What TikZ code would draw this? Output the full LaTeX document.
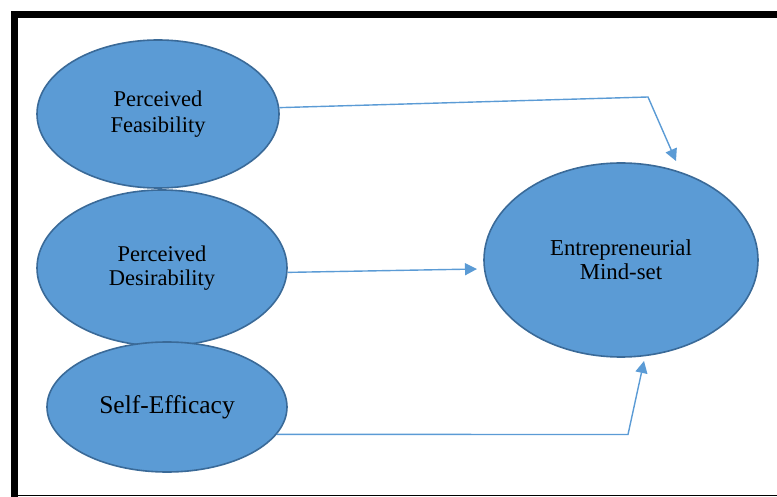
\documentclass[tikz,border=0pt]{standalone}
\usepackage{fontspec}
\setmainfont{Liberation Serif}
\usetikzlibrary{shapes.geometric,arrows.meta}
\definecolor{ellfill}{HTML}{5B9BD5}
\definecolor{elledge}{HTML}{3A6A98}
\definecolor{linkcol}{HTML}{5B9BD5}
\tikzset{
  ell/.style={ellipse, draw=elledge, line width=1.6pt, fill=ellfill, inner sep=0pt, align=center, text=black},
  link/.style={draw=linkcol, line width=1.4pt, -{Triangle[length=12pt,width=12pt]}}
}
\begin{document}
\begin{tikzpicture}[x=1pt,y=-1pt]
\useasboundingbox (0,0) rectangle (777,497);
% frame
\fill[black] (11,11) rectangle (777,18);
\fill[black] (11,11) rectangle (18,497);
\draw[black, line width=1.5pt] (11,495.5) -- (777,495.5);
% nodes
\node[ell, minimum width=242pt, minimum height=148pt, font=\fontsize{22.5}{26}\selectfont] (a) at (158,114) {Perceived\\Feasibility};
\node[ell, minimum width=250pt, minimum height=156pt, font=\fontsize{22.5}{24}\selectfont] (b) at (162,268) {Perceived\\Desirability};
\node[ell, minimum width=240pt, minimum height=130pt, font=\fontsize{25.5}{30}\selectfont] (c) at (167,407) {Self-Efficacy};
\node[ell, minimum width=274pt, minimum height=194pt, font=\fontsize{22.8}{24}\selectfont] (d) at (621,260) {Entrepreneurial\\Mind-set};
% coordinates
\coordinate (k1) at (648,97);
\coordinate (e1) at (676,161);
\coordinate (e2) at (477,269);
\coordinate (k3) at (628,434.5);
\coordinate (e3) at (644,361);
% connectors
\draw[link] (a.3.5) -- (k1) -- (e1);
\draw[link] (b.-2.3) -- (e2);
\draw[link] (c.-14) -- (k3) -- (e3);
\end{tikzpicture}
\end{document}
